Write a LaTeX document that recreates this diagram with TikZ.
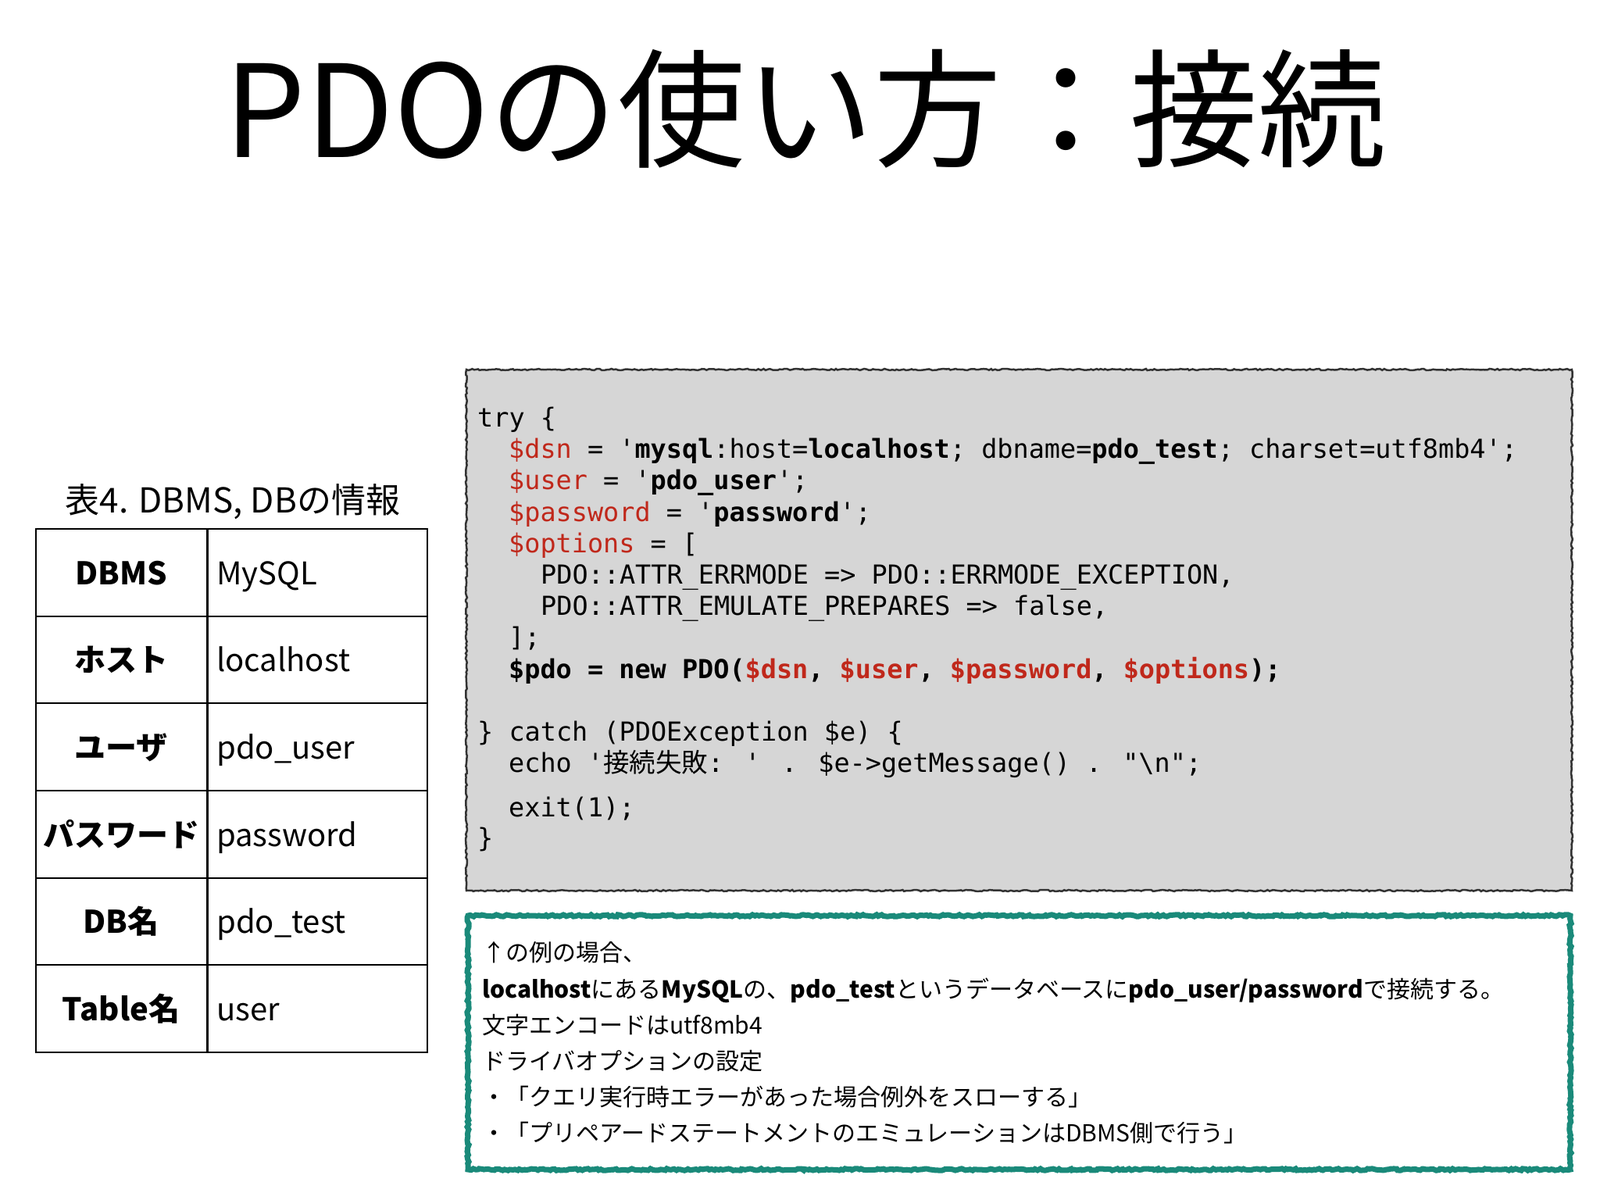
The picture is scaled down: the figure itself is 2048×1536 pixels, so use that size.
\documentclass[tikz,border=0pt]{standalone}
\usepackage{fontspec}
\setmainfont{Noto Sans CJK JP}
\newfontfamily\codefont{DejaVu Sans Mono}
\newfontfamily\jp{Noto Sans CJK JP}
\usetikzlibrary{decorations.pathmorphing}
\definecolor{codered}{HTML}{C0281B}
\definecolor{codebg}{HTML}{D6D6D6}
\definecolor{teal2}{HTML}{1A8A7A}
\begin{document}
\begin{tikzpicture}[x=1pt,y=-1pt,
  cl/.style={anchor=base west,inner sep=0pt,font=\codefont\fontsize{33.5}{40}\selectfont},
  nl/.style={anchor=base west,inner sep=0pt,font=\fontsize{30}{36}\selectfont},
  lab/.style={anchor=base,inner sep=0pt,font=\fontsize{40}{48}\selectfont\bfseries},
  val/.style={anchor=base west,inner sep=0pt,font=\fontsize{40}{48}\selectfont}]
\useasboundingbox (0,0) rectangle (2048,1536);
\fill[white] (0,0) rectangle (2048,1536);
% title
\node[anchor=base,inner sep=0pt,font=\fontsize{164}{176}\selectfont] (title) at (1031,201) {PDOの使い方：接続};
% table caption
\node[anchor=base,inner sep=0pt,font=\fontsize{44}{50}\selectfont] (cap) at (298,656) {表4. DBMS, DBの情報};
% table
\draw[line width=2pt] (46,677) rectangle (547,1347);
\foreach \y in {789,900,1012,1124,1235} \draw[line width=2pt] (46,\y) -- (547,\y);
\draw[line width=3pt] (265,677) -- (265,1347);
\foreach \l/\v/\y [count=\i] in {DBMS/MySQL/734,ホスト/localhost/845,ユーザ/pdo\_user/957,パスワード/password/1069,DB名/pdo\_test/1180,Table名/user/1292}{
  \node[lab] (l\i) at (155,\y+14) {\l};
  \node[val] (v\i) at (277,\y+14) {\v};
}
% code box
\draw[fill=codebg,draw=black!80,line width=2.5pt,decorate,decoration={random steps,segment length=3pt,amplitude=1pt}] (597,473) rectangle (2012,1140);
\begin{scope}[yshift=-8pt]
\node[cl] (c1) at (611,538) {try \{};
\node[cl] (c2) at (651,578) {\textcolor{codered}{\$dsn} = '\textbf{mysql}:host=\textbf{localhost}; dbname=\textbf{pdo\_test}; charset=utf8mb4';};
\node[cl] (c3) at (651,618) {\textcolor{codered}{\$user} = '\textbf{pdo\_user}';};
\node[cl] (c4) at (651,659) {\textcolor{codered}{\$password} = '\textbf{password}';};
\node[cl] (c5) at (651,699) {\textcolor{codered}{\$options} = [};
\node[cl] (c6) at (692,739) {PDO::ATTR\_ERRMODE => PDO::ERRMODE\_EXCEPTION,};
\node[cl] (c7) at (692,779) {PDO::ATTR\_EMULATE\_PREPARES => false,};
\node[cl] (c8) at (651,819) {];};
\node[cl] (c9) at (651,860) {\textbf{\$pdo = new PDO(\textcolor{codered}{\$dsn}, \textcolor{codered}{\$user}, \textcolor{codered}{\$password}, \textcolor{codered}{\$options});}};
\node[cl] (c10) at (611,940) {\} catch (PDOException \$e) \{};
\node[cl] (c11) at (651,980) {echo '{\jp 接続失敗}: ' . \$e->getMessage() . "\textbackslash n";};
\node[cl] (c12) at (651,1037) {exit(1);};
\node[cl] (c13) at (611,1076) {\}};
\end{scope}
% note box
\draw[draw=teal2,line width=7pt,decorate,decoration={random steps,segment length=3pt,amplitude=1.2pt}] (599,1172) rectangle (2010,1497);
\node[nl] (n1) at (617,1230) {↑の例の場合、};
\node[nl] (n2) at (617,1277) {\textbf{localhost}にある\textbf{MySQL}の、\textbf{pdo\_test}というデータベースに\textbf{pdo\_user/password}で接続する。};
\node[nl] (n3) at (617,1323) {文字エンコードはutf8mb4};
\node[nl] (n4) at (617,1369) {ドライバオプションの設定};
\node[nl] (n5) at (617,1415) {・「クエリ実行時エラーがあった場合例外をスローする」};
\node[nl] (n6) at (617,1461) {・「プリペアードステートメントのエミュレーションはDBMS側で行う」};
\end{tikzpicture}
\end{document}
